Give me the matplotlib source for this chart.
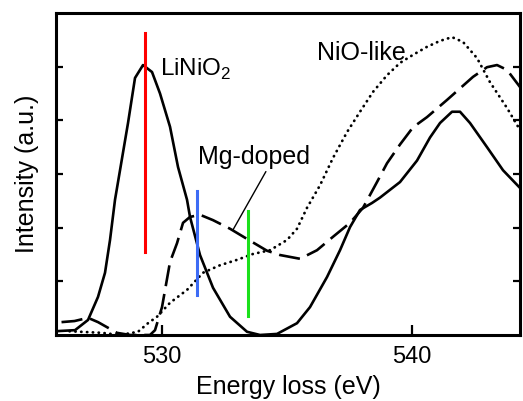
import matplotlib
matplotlib.use("Agg")
import matplotlib.pyplot as plt

plt.rcParams['font.family'] = ['Liberation Sans', 'DejaVu Sans']

# LiNiO2 (solid)
li_x = [525.75, 525.92, 526.52, 527.04, 527.44, 527.72, 527.92, 528.12, 528.32, 528.64, 528.92,
        529.24, 529.6, 529.92, 530.32, 530.64, 531.0, 531.12, 531.52, 532.04, 532.72, 533.4,
        533.92, 534.6, 535.4, 535.92, 536.6, 537.12, 537.52, 537.92, 538.4, 538.72, 539.52,
        540.2, 540.72, 541.12, 541.6, 541.92, 542.32, 543.0, 543.64, 544.32]
li_y = [0.07, 0.075, 0.09, 0.28, 0.71, 1.16, 1.77, 2.52, 3.07, 3.95, 4.79,
        5.03, 4.90, 4.50, 3.88, 3.13, 2.52, 2.2, 1.49, 0.88, 0.34, 0.06,
        0.0, 0.02, 0.22, 0.52, 1.08, 1.58, 2.01, 2.33, 2.46, 2.56, 2.85,
        3.25, 3.68, 3.95, 4.16, 4.16, 3.95, 3.50, 3.07, 2.74]

# Mg-doped (dashed)
mg_x = [525.98, 526.5, 527.04, 527.44, 528.2, 528.72, 529.52, 529.72, 530.0, 530.32, 530.6,
        530.84, 531.12, 531.52, 532.04, 532.72, 533.4, 534.2, 534.72, 535.52, 536.2, 536.84,
        537.52, 538.04, 538.6, 539.0, 539.52, 540.04, 540.6, 541.4, 542.44, 543.0, 543.4,
        543.8, 544.32]
mg_y = [0.24, 0.26, 0.32, 0.24, 0.04, 0.0, 0.0, 0.09, 0.52, 1.36, 1.71,
        2.09, 2.2, 2.24, 2.14, 1.98, 1.79, 1.57, 1.49, 1.42, 1.58, 1.83,
        2.09, 2.37, 2.85, 3.2, 3.55, 3.87, 4.06, 4.38, 4.81, 4.99, 5.03,
        4.94, 4.62]

# NiO-like (dotted)
nio_x = [526.3, 527.6, 528.32, 529.04, 529.44, 529.8, 530.32, 531.0, 531.64, 532.32, 533.0,
         533.64, 534.32, 535.0, 535.4, 535.8, 536.32, 536.84, 537.4, 537.92, 538.44, 539.0,
         539.52, 540.04, 540.6, 541.12, 541.6, 542.04, 542.6, 543.12, 543.8, 544.32]
nio_y = [0.07, 0.04, 0.0, 0.06, 0.22, 0.34, 0.6, 0.84, 1.16, 1.3, 1.4,
         1.51, 1.58, 1.77, 1.98, 2.37, 2.79, 3.30, 3.78, 4.16, 4.53, 4.84,
         5.07, 5.22, 5.37, 5.48, 5.55, 5.46, 5.16, 4.71, 4.23, 3.82]

# marker lines: (energy, bottom, top, colour)
mark_e = [529.3, 531.39, 533.45]
mark_lo = [1.55, 0.75, 0.36]
mark_hi = [5.63, 2.69, 2.31]
mark_c = ['#ff0000', '#3d6cf5', '#1be01b']

fig = plt.figure(figsize=(5.23, 4.01), dpi=100)
ax = fig.add_axes([0.1071, 0.1646, 0.8872, 0.803])

ax.plot(li_x, li_y, color='black', lw=1.9)
ax.plot(mg_x, mg_y, color='black', lw=1.9, dashes=(8, 3))
ax.plot(nio_x, nio_y, color='black', lw=2.0, dashes=(0.1, 2.0), dash_capstyle='round')

for e, lo, hi, c in zip(mark_e, mark_lo, mark_hi, mark_c):
    ax.plot([e, e], [lo, hi], color=c, lw=2.2)

ax.text(529.9, 4.95, 'LiNiO$_\\mathregular{2}$', fontsize=17.5, va='center', ha='left')
ax.text(537.96, 5.25, 'NiO-like', fontsize=18, va='center', ha='center')
ax.annotate('Mg-doped', xy=(532.84, 1.96), xytext=(533.68, 3.32),
            fontsize=18, ha='center', va='center',
            arrowprops=dict(arrowstyle='-', color='black', lw=1.0,
                            shrinkA=0, shrinkB=0, relpos=(0.62, 0.0)))

ax.set_xlim(525.76, 544.32)
ax.set_ylim(0, 6)
ax.set_xticks([530, 540])
ax.set_yticks([1, 2, 3, 4, 5])
ax.set_yticklabels([])
ax.tick_params(axis='x', direction='in', length=7, width=1.6, labelsize=17, pad=8)
ax.tick_params(axis='y', direction='in', length=5, width=1.6, left=True, right=True)
for s in ax.spines.values():
    s.set_linewidth(2.2)

ax.set_xlabel('Energy loss (eV)', fontsize=18, labelpad=5)
ax.set_ylabel('Intensity (a.u.)', fontsize=18, labelpad=9)

fig.savefig('out.png', dpi=100)
